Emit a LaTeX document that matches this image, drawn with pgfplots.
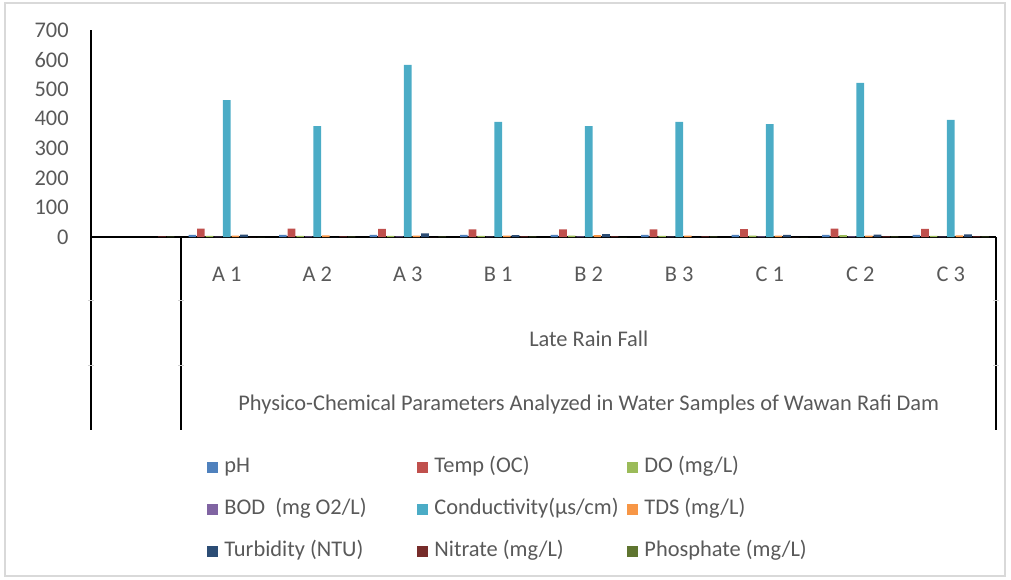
\documentclass[border=0pt]{standalone}
\usepackage{pgfplots}
\pgfplotsset{compat=1.18}
\usepackage{fontspec}
\setmainfont{Carlito}
\definecolor{cph}{HTML}{4F81BD}
\definecolor{ctemp}{HTML}{C0504D}
\definecolor{cdo}{HTML}{9BBB59}
\definecolor{cbod}{HTML}{8064A2}
\definecolor{ccond}{HTML}{4BACC6}
\definecolor{ctds}{HTML}{F79646}
\definecolor{cturb}{HTML}{2C4D75}
\definecolor{cnit}{HTML}{772C2A}
\definecolor{cphos}{HTML}{5F7530}
\definecolor{txt}{HTML}{595959}
\definecolor{frame}{HTML}{D9D9D9}
\newcommand{\fs}{\fontsize{11.2}{13.4}\selectfont}
\newcommand{\legbox}[1]{\makebox[96.5pt][l]{#1}}
\begin{document}
\begin{tikzpicture}
\path[use as bounding box] (-45.5pt,118.5pt) rectangle (460pt,-171pt);
\draw[frame, line width=0.7pt] (-43pt,117pt) rectangle (457pt,-169.5pt);
\begin{axis}[
  at={(0pt,0pt)}, anchor=south west,
  scale only axis, width=452.5pt, height=103.5pt,
  xmin=-0.5, xmax=9.5, ymin=0, ymax=700,
  ybar=0.5pt, bar width=3.8pt,
  axis x line*=bottom, axis y line*=left,
  axis line style={black, line width=1pt, -},
  major tick length=0pt,
  ytick={0,100,...,700},
  xtick={1,...,9},
  xticklabels={A 1,A 2,A 3,B 1,B 2,B 3,C 1,C 2,C 3},
  tick label style={text=txt, font=\fs},
  /pgf/number format/assume math mode=true,
  yticklabel style={anchor=east, inner sep=0pt, xshift=-11pt},
  xticklabel style={anchor=center, inner sep=0pt, yshift=-18.5pt},
  clip=false,
  legend columns=3,
  legend image code/.code={\fill[#1] (0pt,-2.6pt) rectangle (5.2pt,2.6pt);},
  legend style={at={(0.1282,-1.06)}, anchor=north west, draw=none, fill=none,
    inner sep=0pt, font=\fs, text=txt, row sep=10.5pt,
    /tikz/every odd column/.style={column sep=3.3pt},
    nodes={inner sep=0pt, text height=8pt, text depth=2.5pt}},
]
\addplot[fill=cph, draw=none] coordinates {(1,7.2)(2,7.1)(3,7.3)(4,7.0)(5,7.2)(6,7.1)(7,7.3)(8,7.2)(9,7.1)};
\addlegendentry{\legbox{pH}}
\addplot[fill=ctemp, draw=none] coordinates {(1,28.5)(2,28)(3,27.5)(4,26)(5,25.5)(6,26)(7,27)(8,28.5)(9,27.5)};
\addlegendentry{\legbox{Temp (OC)}}
\addplot[fill=cdo, draw=none] coordinates {(1,4)(2,3.5)(3,4)(4,3.5)(5,4.5)(6,4)(7,4.5)(8,6.5)(9,4)};
\addlegendentry{\legbox{DO (mg/L)}}
\addplot[fill=cbod, draw=none] coordinates {(1,1.5)(2,2)(3,2)(4,1.5)(5,2)(6,1.5)(7,2)(8,2)(9,1.5)};
\addlegendentry{\legbox{BOD~~(mg O2/L)}}
\addplot[fill=ccond, draw=none] coordinates {(1,463)(2,375)(3,582)(4,389)(5,375)(6,389)(7,382)(8,521)(9,396)};
\addlegendentry{\legbox{Conductivity(µs/cm)}}
\addplot[fill=ctds, draw=none] coordinates {(1,5)(2,5.5)(3,4.5)(4,5)(5,6)(6,5)(7,5)(8,5)(9,5.5)};
\addlegendentry{\legbox{TDS (mg/L)}}
\addplot[fill=cturb, draw=none] coordinates {(1,8)(2,0)(3,12.5)(4,6)(5,10)(6,0)(7,7)(8,8)(9,8.5)};
\addlegendentry{\legbox{Turbidity (NTU)}}
\addplot[fill=cnit, draw=none] coordinates {(0,2.5)(1,0)(2,2.5)(3,0)(4,2)(5,2)(6,2)(7,0)(8,2)(9,2.5)};
\addlegendentry{\legbox{Nitrate (mg/L)}}
\addplot[fill=cphos, draw=none] coordinates {(0,1.5)(1,0)(2,1)(3,1)(4,1)(5,0)(6,1)(7,0)(8,1)(9,1)};
\addlegendentry{\legbox{Phosphate (mg/L)}}
% multi-level category dividers
\draw[black, line width=1pt] (axis cs:-0.5,0) -- (axis cs:-0.5,-653);
\draw[black, line width=1pt] (axis cs:0.5,0) -- (axis cs:0.5,-653);
\draw[black, line width=1pt] (axis cs:9.5,0) -- (axis cs:9.5,-653);
\draw[gray!35, line width=0.5pt] ([xshift=-1.5pt]axis cs:-0.5,-216) -- ([xshift=1.5pt]axis cs:-0.5,-216);
\draw[gray!35, line width=0.5pt] ([xshift=-1.5pt]axis cs:0.5,-216) -- ([xshift=1.5pt]axis cs:0.5,-216);
\draw[gray!35, line width=0.5pt] ([xshift=-1.5pt]axis cs:9.5,-216) -- ([xshift=1.5pt]axis cs:9.5,-216);
\draw[gray!35, line width=0.5pt] ([xshift=-1.5pt]axis cs:-0.5,-436) -- ([xshift=1.5pt]axis cs:-0.5,-436);
\draw[gray!35, line width=0.5pt] ([xshift=-1.5pt]axis cs:0.5,-436) -- ([xshift=1.5pt]axis cs:0.5,-436);
\draw[gray!35, line width=0.5pt] ([xshift=-1.5pt]axis cs:9.5,-436) -- ([xshift=1.5pt]axis cs:9.5,-436);
\node[text=txt, font=\fs] at (axis cs:5,-345) {Late Rain Fall};
\node[text=txt, font=\fs] at (axis cs:5,-565) {Physico-Chemical Parameters Analyzed in Water Samples of Wawan Rafi Dam};
\end{axis}
\end{tikzpicture}
\end{document}
